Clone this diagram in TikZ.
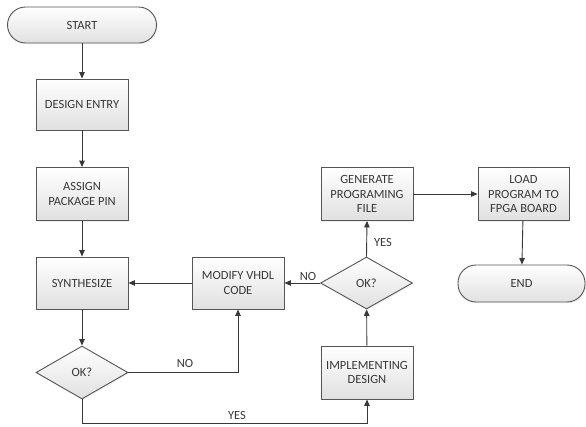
\documentclass[tikz,border=0pt]{standalone}
\usepackage{fontspec}
\setmainfont{Carlito}
\usetikzlibrary{shapes.geometric,arrows.meta,shadows}
\definecolor{edge}{HTML}{555555}
\definecolor{ink}{HTML}{383838}
\tikzset{
  flowbase/.style={draw=edge, line width=0.9pt, text=ink, align=center,
    top color=white, bottom color=black!12, inner sep=2pt,
    font=\fontsize{12.5}{14.5}\selectfont,
    drop shadow={opacity=0.12, shadow xshift=1.2pt, shadow yshift=-1.2pt}},
  procbox/.style={flowbase, rectangle, minimum width=92pt, minimum height=53pt},
  pill/.style={flowbase, rectangle, rounded corners=18pt, minimum height=36pt},
  decision/.style={flowbase, diamond, aspect=1.7, inner sep=0pt,
    minimum width=92pt, minimum height=53pt},
  flow/.style={draw=ink, line width=0.9pt, -{Triangle[length=6.5pt,width=5.5pt]}},
  lbl/.style={text=ink, font=\fontsize{12.5}{14.5}\selectfont, inner sep=1pt}
}
\begin{document}
\begin{tikzpicture}[x=1pt,y=-1pt]
  \useasboundingbox (0,0) rectangle (586,426);

  % left column
  \node[pill, minimum width=149pt] (start) at (82,25) {START};
  \node[procbox, minimum height=51pt] (design) at (82,104.5) {DESIGN ENTRY};
  \node[procbox] (assign) at (82,194) {ASSIGN\\PACKAGE PIN};
  \node[procbox, minimum height=52pt] (synth) at (82,283) {SYNTHESIZE};
  \node[decision] (ok1) at (82,372.5) {OK?};

  % middle and right
  \node[procbox, minimum height=52pt] (modify) at (238,283) {MODIFY VHDL\\CODE};
  \node[decision, minimum height=52pt] (ok2) at (366.5,283) {OK?};
  \node[procbox] (impl) at (367,372.5) {IMPLEMENTING\\DESIGN};
  \node[procbox] (gen) at (367,194) {GENERATE\\PROGRAMING\\FILE};
  \node[procbox, minimum width=91pt] (load) at (523.5,194) {LOAD\\PROGRAM TO\\FPGA BOARD};
  \node[pill, minimum width=127pt, minimum height=37pt] (end) at (521.5,283.5) {END};

  \coordinate (ybase) at (82,423);

  % connectors
  \draw[flow] (start) -- (design);
  \draw[flow] (design) -- (assign);
  \draw[flow] (assign) -- (synth);
  \draw[flow] (synth) -- (ok1);
  \draw[flow] (ok1.east) -| (modify.south);
  \draw[flow] (ok1.south) -- (ybase) -| (impl.south);
  \draw[flow] (impl) -- (ok2);
  \draw[flow] (ok2.west) -- (modify.east);
  \draw[flow] (ok2.north) -- (gen.south);
  \draw[flow] (modify.west) -- (synth.east);
  \draw[flow] (gen) -- (load);
  \draw[flow] (load) -- (end);

  % branch labels
  \node[lbl] at (185,363) {NO};
  \node[lbl] at (237,415) {YES};
  \node[lbl] at (308,276) {NO};
  \node[lbl] at (383,242) {YES};
\end{tikzpicture}
\end{document}
